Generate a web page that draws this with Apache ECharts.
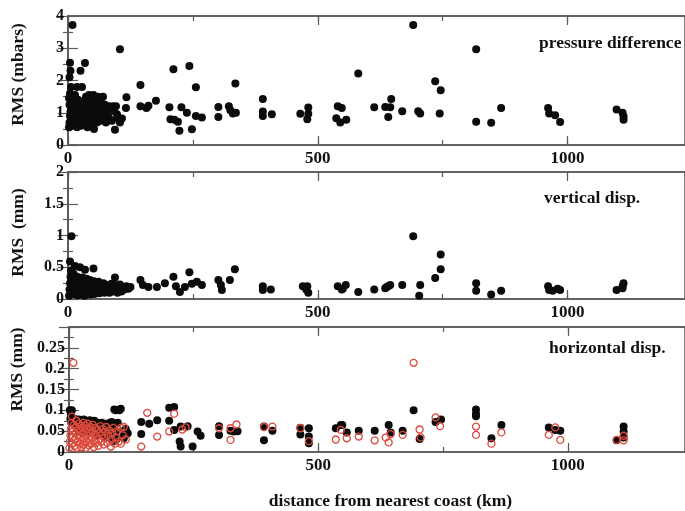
<!DOCTYPE html>
<html>
<head>
<meta charset="utf-8">
<script src="https://cdn.jsdelivr.net/npm/echarts@6/dist/echarts.min.js"></script>
<style>html,body{margin:0;padding:0;background:#fff;}#c{width:685px;height:511px;}</style>
</head>
<body>
<div id="c"></div>
<script>
// ---- data (distance km, RMS) ----
const xTicks = [0, 500, 1000];
const panelLabels = ["pressure difference", "vertical disp.", "horizontal disp."];
const yNames = ["RMS (mbars)", "RMS  (mm)", "RMS (mm)"];
const xName = "distance from nearest coast (km)";

const pressure = [
[2,0.55],[3,0.7],[4,0.9],[5,1.05],[3,1.25],[2,1.45],[4,1.6],[6,1.8],[3,2.1],[5,2.3],[4,2.55],[9,3.72],
[7,0.6],[8,0.8],[9,1.0],[10,1.2],[8,1.4],[11,0.65],[12,0.9],[13,1.1],[12,1.3],[14,1.55],[15,0.75],[16,1.0],
[17,1.2],[18,0.55],[19,0.85],[20,1.4],[21,1.05],[22,0.7],[23,1.25],[24,0.95],[25,2.3],[26,0.6],[27,1.15],
[18,1.8],[28,1.8],[29,0.8],[30,1.35],[31,1.0],[32,0.65],[34,2.54],[34,1.2],[35,0.9],[36,1.5],[37,0.75],
[38,1.1],[39,0.55],[40,1.3],[41,0.95],[42,1.55],[43,0.7],[44,1.15],[45,0.85],[46,1.4],[47,1.0],[48,0.6],
[49,1.25],[50,0.9],[51,1.55],[52,0.5],[53,1.1],[54,0.8],[56,1.3],[57,1.0],[58,0.7],[60,1.5],[61,1.2],
[62,0.9],[64,1.05],[65,0.75],[66,1.35],[68,1.15],[70,1.5],[70,0.85],[72,1.0],[74,1.25],[76,0.7],[78,1.1],
[80,0.9],[82,1.2],[84,0.8],[86,1.15],[88,0.75],[90,1.2],[92,1.05],[94,0.47],[96,1.2],[98,0.95],[100,0.85],
[104,2.97],[104,0.7],[108,0.82],[116,1.15],[117,1.48],
[145,1.2],[145,1.86],[157,1.15],[161,1.22],[176,1.37],[203,1.17],[205,0.8],[211,2.35],[213,0.78],[220,0.72],
[223,0.44],[227,1.17],[238,1.0],[243,2.45],[248,0.49],[256,1.79],[256,0.9],[268,0.85],[301,1.18],[301,0.87],
[322,1.2],[325,1.08],[330,0.98],[336,1.0],[335,1.91],[390,1.43],[390,1.04],[390,0.9],[408,0.95],[465,0.97],
[481,1.16],[481,0.97],[479,0.8],[540,1.2],[548,1.15],[537,0.83],[545,0.7],[557,0.78],[581,2.22],[613,1.17],
[635,1.18],[645,1.17],[647,1.43],[641,0.87],[669,1.05],[691,3.72],[701,1.05],[705,0.98],[735,1.98],[746,1.7],
[744,0.98],[817,2.97],[817,0.72],[847,0.69],[867,1.15],[961,1.15],[963,0.98],[975,0.92],[985,0.71],
[1098,1.1],[1110,1.0],[1112,0.88],[1112,0.78]
];

const vertical = [
[4,0.59],[7,0.99],[14,0.52],[24,0.5],[34,0.46],[51,0.48],[2,0.05],[3,0.15],[4,0.25],[5,0.35],[6,0.45],
[8,0.1],[9,0.2],[10,0.3],[11,0.4],[12,0.08],[13,0.18],[15,0.28],[16,0.12],[17,0.22],[18,0.35],[19,0.06],
[20,0.16],[21,0.26],[22,0.1],[23,0.2],[25,0.3],[26,0.07],[27,0.14],[28,0.24],[29,0.34],[30,0.1],[31,0.18],
[32,0.28],[33,0.05],[35,0.15],[36,0.22],[37,0.32],[38,0.09],[39,0.17],[40,0.25],[42,0.12],[43,0.2],
[44,0.3],[45,0.07],[46,0.15],[48,0.24],[49,0.11],[50,0.19],[52,0.28],[53,0.08],[55,0.16],[56,0.22],
[58,0.12],[60,0.2],[61,0.27],[63,0.09],[64,0.15],[66,0.21],[68,0.12],[70,0.18],[71,0.25],[73,0.1],
[75,0.16],[77,0.22],[79,0.12],[81,0.19],[83,0.1],[85,0.16],[87,0.24],[89,0.12],[91,0.2],[94,0.34],
[95,0.14],[97,0.22],[99,0.1],[101,0.17],[104,0.23],[107,0.12],[110,0.18],[113,0.15],[117,0.2],[121,0.16],[125,0.19],
[145,0.3],[150,0.22],[161,0.19],[178,0.19],[194,0.25],[211,0.35],[216,0.2],[224,0.11],[234,0.19],[243,0.42],
[248,0.24],[258,0.27],[268,0.22],[301,0.3],[306,0.22],[308,0.14],[324,0.3],[334,0.47],[390,0.2],[390,0.14],
[406,0.15],[470,0.2],[477,0.15],[481,0.1],[479,0.2],[540,0.2],[548,0.15],[550,0.16],[556,0.22],[581,0.11],
[613,0.15],[635,0.17],[641,0.2],[645,0.22],[638,0.19],[669,0.22],[691,0.99],[705,0.22],[703,0.05],[735,0.33],
[746,0.47],[746,0.7],[817,0.25],[817,0.13],[847,0.07],[867,0.13],[961,0.2],[963,0.14],[970,0.13],[980,0.16],
[985,0.14],[1098,0.14],[1110,0.2],[1112,0.25],[1110,0.17]
];

const horizBlack = [
[2,0.1],[4,0.09],[6,0.1],[3,0.08],[5,0.07],[8,0.075],[10,0.08],[12,0.07],[14,0.078],[16,0.06],[18,0.072],
[20,0.078],[22,0.065],[24,0.074],[27,0.07],[30,0.078],[33,0.06],[36,0.074],[39,0.07],[42,0.076],[45,0.065],
[48,0.07],[51,0.075],[54,0.06],[57,0.07],[60,0.068],[63,0.055],[66,0.07],[70,0.06],[74,0.068],[78,0.05],
[82,0.07],[86,0.072],[90,0.055],[91,0.102],[94,0.1],[101,0.1],[104,0.104],[98,0.07],[100,0.04],[106,0.05],
[110,0.033],[114,0.055],[118,0.045],[20,0.05],[28,0.045],[40,0.05],[55,0.04],[65,0.045],[75,0.035],[85,0.04],
[88,0.025],[95,0.03],
[145,0.072],[161,0.068],[177,0.076],[145,0.043],[201,0.106],[211,0.108],[201,0.075],[211,0.053],[224,0.061],
[222,0.025],[224,0.013],[248,0.013],[238,0.062],[258,0.049],[264,0.039],[301,0.062],[301,0.041],[324,0.051],
[331,0.049],[338,0.05],[391,0.061],[391,0.028],[408,0.051],[464,0.058],[464,0.042],[481,0.057],[481,0.037],
[481,0.021],[535,0.057],[545,0.065],[548,0.065],[557,0.047],[581,0.051],[613,0.051],[641,0.065],[645,0.047],
[669,0.051],[691,0.1],[703,0.031],[735,0.072],[746,0.078],[816,0.102],[816,0.092],[816,0.086],[847,0.033],
[867,0.065],[962,0.059],[975,0.053],[985,0.051],[1098,0.028],[1112,0.061],[1112,0.049],[1112,0.035]
];

const horizRed = [
[1,0.01],[2,0.025],[3,0.04],[4,0.055],[5,0.07],[6,0.085],[7,0.02],[8,0.035],[9,0.05],[9,0.214],[10,0.065],
[11,0.015],[12,0.03],[13,0.045],[14,0.06],[15,0.075],[16,0.01],[17,0.025],[18,0.04],[19,0.055],[20,0.068],
[21,0.02],[22,0.035],[23,0.05],[24,0.062],[25,0.012],[26,0.028],[27,0.044],[28,0.058],[29,0.07],[30,0.018],
[31,0.033],[32,0.048],[33,0.064],[34,0.01],[35,0.024],[36,0.04],[37,0.055],[38,0.068],[40,0.016],[41,0.03],
[42,0.046],[43,0.06],[45,0.02],[46,0.036],[47,0.052],[48,0.065],[50,0.012],[51,0.028],[52,0.044],[53,0.058],
[55,0.022],[56,0.038],[57,0.054],[59,0.015],[60,0.03],[61,0.046],[63,0.062],[65,0.025],[66,0.04],[68,0.055],
[70,0.018],[71,0.034],[73,0.048],[75,0.06],[77,0.022],[79,0.04],[81,0.052],[84,0.013],[85,0.03],[87,0.045],
[89,0.058],[92,0.02],[94,0.035],[96,0.05],[100,0.025],[104,0.058],[104,0.02],[108,0.04],[110,0.06],[114,0.03],
[157,0.094],[211,0.092],[177,0.037],[145,0.013],[201,0.049],[227,0.054],[234,0.059],[301,0.057],[324,0.057],
[324,0.029],[336,0.066],[391,0.06],[408,0.061],[464,0.057],[481,0.026],[535,0.03],[545,0.053],
[691,0.214],[557,0.033],[581,0.037],[613,0.028],[635,0.035],[641,0.023],[645,0.043],[669,0.041],[703,0.054],
[705,0.035],[735,0.083],[744,0.062],[816,0.061],[816,0.041],[847,0.02],[867,0.047],[962,0.041],[975,0.059],
[985,0.029],[1098,0.029],[1112,0.039],[1112,0.028]
];

const yRanges = [[0, 4, 1], [0, 2, 0.5], [0, 0.3, 0.05]];
// ---- layout ----
const XMAX = 1235;
const grids = [
  {left: 68, top: 16, width: 617, height: 129},
  {left: 68, top: 172, width: 617, height: 127},
  {left: 68, top: 327, width: 617, height: 127}
];
const FRAME = '#5a5a5a';
const FONT = '"Liberation Serif", "Times New Roman", serif';
const namePad = [12, 6, 40];

const xAxes = [], yAxes = [];
grids.forEach((g, i) => {
  const base = {type: 'value', gridIndex: i, min: 0, max: XMAX, splitLine: {show: false}};
  xAxes.push(Object.assign({}, base, {
    position: 'bottom', interval: 500,
    axisLine: {show: true, lineStyle: {color: FRAME, width: 1.5}},
    axisTick: {show: true, inside: true, length: 9, lineStyle: {color: FRAME, width: 1.2}},
    axisLabel: {show: true, margin: 5, color: '#111', fontFamily: FONT, fontWeight: 'bold', fontSize: 17,
      showMaxLabel: false, formatter: v => (xTicks.indexOf(v) >= 0 ? String(v) : '')},
    name: i === 2 ? xName : '', nameLocation: 'middle', nameGap: 40,
    nameTextStyle: {color: '#111', fontFamily: FONT, fontWeight: 'bold', fontSize: 17.5, padding: [0, 0, 0, 27]}
  }));
  xAxes.push(Object.assign({}, base, {
    position: 'bottom', interval: 250, axisLine: {show: false},
    axisTick: {show: true, inside: true, length: 5, lineStyle: {color: FRAME, width: 1.2}},
    axisLabel: {show: false}
  }));
  xAxes.push(Object.assign({}, base, {
    position: 'top', interval: 500,
    axisLine: {show: true, lineStyle: {color: FRAME, width: 1.5}},
    axisTick: {show: true, inside: true, length: 9, lineStyle: {color: FRAME, width: 1.2}},
    axisLabel: {show: false}
  }));
  xAxes.push(Object.assign({}, base, {
    position: 'top', interval: 250, axisLine: {show: false},
    axisTick: {show: true, inside: true, length: 5, lineStyle: {color: FRAME, width: 1.2}},
    axisLabel: {show: false}
  }));
  const r = yRanges[i];
  const ybase = {type: 'value', gridIndex: i, min: r[0], max: r[1], interval: r[2], splitLine: {show: false},
    axisLine: {show: true, lineStyle: {color: FRAME, width: 1.5}},
    axisTick: {show: true, inside: true, length: 10, lineStyle: {color: FRAME, width: 1.2}},
    minorTick: {show: true, splitNumber: 2, length: 5, lineStyle: {color: FRAME, width: 1.2}}};
  yAxes.push(Object.assign({}, ybase, {
    position: 'left',
    axisLabel: {show: true, margin: 4, color: '#111', fontFamily: FONT, fontWeight: 'bold', fontSize: 16,
      showMaxLabel: i !== 2},
    name: yNames[i], nameLocation: 'middle', nameGap: 41,
    nameTextStyle: {color: '#111', fontFamily: FONT, fontWeight: 'bold', fontSize: 17.5, padding: [0, 0, 0, namePad[i]]}
  }));
  yAxes.push(Object.assign({}, ybase, {position: 'right', axisLabel: {show: false}}));
});

const blackStyle = {color: '#0b0b0b', opacity: 1};
const redStyle = {color: 'rgba(0,0,0,0)', borderColor: '#dc4a3c', borderWidth: 1.3, opacity: 1};
const ANN_FONT = 'bold 17.5px ' + FONT;

const option = {
  animation: false,
  backgroundColor: '#fff',
  grid: grids.map(g => Object.assign({show: true, borderColor: FRAME, borderWidth: 1.5, backgroundColor: 'transparent'}, g)),
  xAxis: xAxes,
  yAxis: yAxes,
  series: [
    {type: 'scatter', name: 'pressure', xAxisIndex: 0, yAxisIndex: 0, data: pressure, symbolSize: 8, itemStyle: blackStyle},
    {type: 'scatter', name: 'vertical', xAxisIndex: 4, yAxisIndex: 2, data: vertical, symbolSize: 8, itemStyle: blackStyle},
    {type: 'scatter', name: 'horizontal (black)', xAxisIndex: 8, yAxisIndex: 4, data: horizBlack, symbolSize: 8, itemStyle: blackStyle},
    {type: 'scatter', name: 'horizontal (red)', xAxisIndex: 8, yAxisIndex: 4, data: horizRed, symbolSize: 7, itemStyle: redStyle}
  ],
  graphic: [
    {type: 'text', x: 539, y: 43, style: {text: panelLabels[0], font: ANN_FONT, fill: '#111', verticalAlign: 'middle'}},
    {type: 'text', x: 544, y: 198, style: {text: panelLabels[1], font: ANN_FONT, fill: '#111', verticalAlign: 'middle'}},
    {type: 'text', x: 549, y: 348, style: {text: panelLabels[2], font: ANN_FONT, fill: '#111', verticalAlign: 'middle'}}
  ]
};
const chart = echarts.init(document.getElementById('c'), null, {renderer: 'canvas'});
chart.setOption(option);
</script>
</body>
</html>
